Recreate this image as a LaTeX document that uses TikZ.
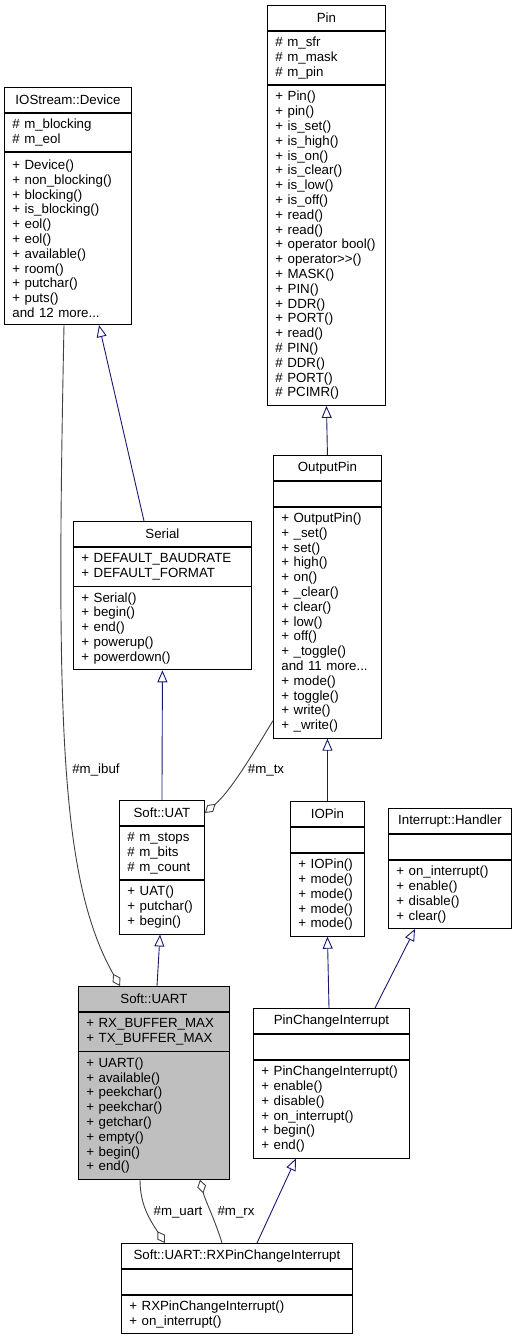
\documentclass[tikz,border=0pt]{standalone}
\usepackage{fontspec}
\setmainfont{Liberation Sans}
\usepackage{tikz}
\usetikzlibrary{positioning,arrows.meta}

\definecolor{dxblue}{RGB}{25,25,112}
\definecolor{dxgray}{RGB}{64,64,64}
\definecolor{dxfill}{RGB}{191,191,191}
\newcommand\dxfont{\fontsize{13.3}{14.8}\selectfont}

\begin{document}
\begin{tikzpicture}[
    x=1pt, y=-1pt,
    head/.style={draw, line width=0.9pt, anchor=north west, inner sep=0pt, minimum height=25pt, font=\dxfont},
    part/.style={draw, line width=0.9pt, anchor=north, inner xsep=8pt, inner ysep=0pt, align=left, font=\dxfont},
    inherit/.style={draw, line width=0.9pt, color=dxblue, -{Triangle[open, length=12pt, width=10pt]}},
    member/.style={draw, line width=0.9pt, color=dxgray, -{Diamond[open, length=14pt, width=9pt]}},
    role/.style={font=\dxfont, inner sep=1pt}
]
\useasboundingbox (0,0) rectangle (517,1340);

% Base classes at the top
\node[head, minimum width=118pt] (pin) at (267,5) {Pin};
\node[part, below=0pt of pin, text width=102pt, minimum height=53.4pt] (pin-a) {\# m\_sfr\\\# m\_mask\\\# m\_pin};
\node[part, below=0pt of pin-a, text width=102pt, minimum height=319.8pt] (pin-m) {+ Pin()\\+ pin()\\+ is\_set()\\+ is\_high()\\+ is\_on()\\+ is\_clear()\\+ is\_low()\\+ is\_off()\\+ read()\\+ read()\\+ operator bool()\\+ operator>{}>()\\+ MASK()\\+ PIN()\\+ DDR()\\+ PORT()\\+ read()\\\# PIN()\\\# DDR()\\\# PORT()\\\# PCIMR()};

\node[head, minimum width=127pt] (device) at (4,87) {IOStream::Device};
\node[part, below=0pt of device, text width=111pt, minimum height=38.6pt] (device-a) {\# m\_blocking\\\# m\_eol};
\node[part, below=0pt of device-a, text width=111pt, minimum height=171.8pt] (device-m) {+ Device()\\+ non\_blocking()\\+ blocking()\\+ is\_blocking()\\+ eol()\\+ eol()\\+ available()\\+ room()\\+ putchar()\\+ puts()\\and 12 more...};

\node[head, minimum width=108pt] (outpin) at (273,455) {OutputPin};
\node[part, below=0pt of outpin, text width=92pt, minimum height=25pt] (outpin-a) {};
\node[part, below=0pt of outpin-a, text width=92pt, minimum height=231pt] (outpin-m) {+ OutputPin()\\+ \_set()\\+ set()\\+ high()\\+ on()\\+ \_clear()\\+ clear()\\+ low()\\+ off()\\+ \_toggle()\\and 11 more...\\+ mode()\\+ toggle()\\+ write()\\+ \_write()};

\node[head, minimum width=178pt] (serial) at (73,521) {Serial};
\node[part, below=0pt of serial, text width=162pt, minimum height=38.6pt] (serial-a) {+ DEFAULT\_BAUDRATE\\+ DEFAULT\_FORMAT};
\node[part, below=0pt of serial-a, text width=162pt, minimum height=83pt] (serial-m) {+ Serial()\\+ begin()\\+ end()\\+ powerup()\\+ powerdown()};

% Middle row
\node[head, minimum width=85pt] (uat) at (119,800) {Soft::UAT};
\node[part, below=0pt of uat, text width=69pt, minimum height=53.4pt] (uat-a) {\# m\_stops\\\# m\_bits\\\# m\_count};
\node[part, below=0pt of uat-a, text width=69pt, minimum height=53.4pt] (uat-m) {+ UAT()\\+ putchar()\\+ begin()};

\node[head, minimum width=74pt] (iopin) at (290,801) {IOPin};
\node[part, below=0pt of iopin, text width=58pt, minimum height=25pt] (iopin-a) {};
\node[part, below=0pt of iopin-a, text width=58pt, minimum height=83pt] (iopin-m) {+ IOPin()\\+ mode()\\+ mode()\\+ mode()\\+ mode()};

\node[head, minimum width=123pt] (handler) at (388,808) {Interrupt::Handler};
\node[part, below=0pt of handler, text width=107pt, minimum height=25pt] (handler-a) {};
\node[part, below=0pt of handler-a, text width=107pt, minimum height=68.2pt] (handler-m) {+ on\_interrupt()\\+ enable()\\+ disable()\\+ clear()};

% Bottom classes
\node[head, minimum width=151pt, fill=dxfill] (uart) at (78,986) {Soft::UART};
\node[part, below=0pt of uart, text width=135pt, minimum height=38.6pt, fill=dxfill] (uart-a) {+ RX\_BUFFER\_MAX\\+ TX\_BUFFER\_MAX};
\node[part, below=0pt of uart-a, text width=135pt, minimum height=127.4pt, fill=dxfill] (uart-m) {+ UART()\\+ available()\\+ peekchar()\\+ peekchar()\\+ getchar()\\+ empty()\\+ begin()\\+ end()};

\node[head, minimum width=156pt] (pci) at (253,1008) {PinChangeInterrupt};
\node[part, below=0pt of pci, text width=140pt, minimum height=25pt] (pci-a) {};
\node[part, below=0pt of pci-a, text width=140pt, minimum height=97.8pt] (pci-m) {+ PinChangeInterrupt()\\+ enable()\\+ disable()\\+ on\_interrupt()\\+ begin()\\+ end()};

\node[head, minimum width=231pt] (rx) at (121,1243) {Soft::UART::RXPinChangeInterrupt};
\node[part, below=0pt of rx, text width=215pt, minimum height=25pt] (rx-a) {};
\node[part, below=0pt of rx-a, text width=215pt, minimum height=38.6pt] (rx-m) {+ RXPinChangeInterrupt()\\+ on\_interrupt()};

% Inheritance arrows
\draw[inherit] ([xshift=71pt]serial.north west) -- ([xshift=95pt]device-m.south west);
\draw[inherit] (uat.north) -- (serial-m.south);
\draw[inherit] ([xshift=79pt]uart.north west) -- ([xshift=41pt]uat-m.south west);
\draw[inherit] (outpin.north) -- (pin-m.south);
\draw[inherit] (iopin.north) -- (outpin-m.south);
\draw[inherit] ([xshift=76pt]pci.north west) -- (iopin-m.south);
\draw[inherit] ([xshift=122pt]pci.north west) -- ([xshift=27pt]handler-m.south west);
\draw[inherit] ([xshift=136pt]rx.north west) -- ([xshift=43pt]pci-m.south west);

% Member links
\draw[member] ([xshift=60pt]device-m.south west) .. controls (56,720) and (60,880) .. ([xshift=42pt]uart.north west);
\draw[member] ([yshift=18pt]outpin-m.south west) .. controls (258,745) and (232,790) .. (uat.east);
\draw[member] ([xshift=62pt]uart-m.south west) .. controls (140,1205) and (150,1220) .. ([xshift=44pt]rx.north west);
\draw[member] ([xshift=101pt]rx.north west) .. controls (215,1220) and (205,1200) .. ([xshift=122pt]uart-m.south west);

% Role labels
\node[role] (lbl-ibuf) at (96,770) {\#m\_ibuf};
\node[role] (lbl-tx) at (266,770) {\#m\_tx};
\node[role] (lbl-uart) at (178,1212) {\#m\_uart};
\node[role] (lbl-rx) at (236,1212) {\#m\_rx};

\end{tikzpicture}
\end{document}
